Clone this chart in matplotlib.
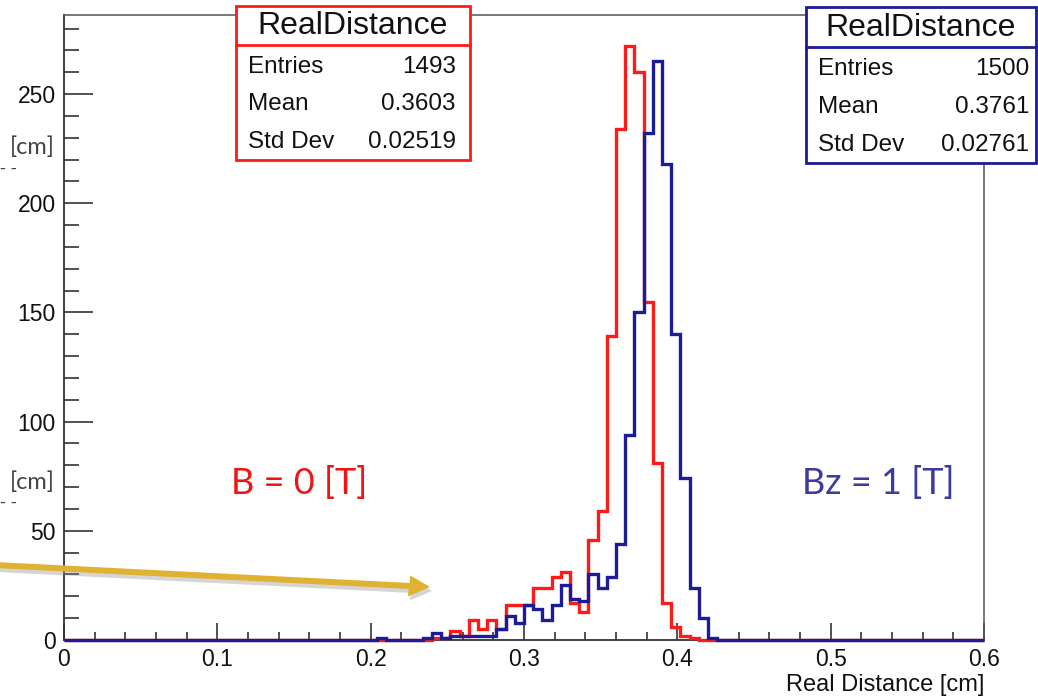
import numpy as np
import matplotlib
matplotlib.use("Agg")
import matplotlib.pyplot as plt
from matplotlib.patches import Rectangle, FancyArrow
from matplotlib.ticker import MultipleLocator

# ---------------- data ----------------
n_bins = 100
x_min, x_max = 0.0, 0.6

# B = 0 [T]  (red) : contiguous bin contents starting at bin low edge red_lo
red_lo = 0.240
red_counts = [1, 1, 4, 2, 9, 5, 9, 5, 16, 16, 16, 24, 24, 29, 31, 17, 13,
              46, 59, 139, 234, 272, 260, 155, 81, 17, 6, 2, 1]

# Bz = 1 [T] (blue)
blue_lo = 0.204
blue_counts = [1, 0, 0, 0, 0, 1, 3, 1, 2, 2, 2, 2, 2, 5, 11, 8, 16, 14, 9,
               16, 25, 19, 18, 30, 24, 29, 44, 94, 150, 232, 265, 218, 140,
               74, 24, 10, 1]

red_stats = [("Entries", "1493"), ("Mean", "0.3603"), ("Std Dev", "0.02519")]
blue_stats = [("Entries", "1500"), ("Mean", "0.3761"), ("Std Dev", "0.02761")]
hist_title = "RealDistance"
x_title = "Real Distance [cm]"
red_label = "B = 0 [T]"
blue_label = "Bz = 1 [T]"

x_ticks = [0, 0.1, 0.2, 0.3, 0.4, 0.5, 0.6]
x_ticklabels = ["0", "0.1", "0.2", "0.3", "0.4", "0.5", "0.6"]
y_ticks = [0, 50, 100, 150, 200, 250]

# ---------------- build histograms ----------------
edges = np.linspace(x_min, x_max, n_bins + 1)
bw = (x_max - x_min) / n_bins


def full_hist(lo, counts):
    h = np.zeros(n_bins)
    i0 = int(round((lo - x_min) / bw))
    h[i0:i0 + len(counts)] = counts
    return h


red_h = full_hist(red_lo, red_counts)
blue_h = full_hist(blue_lo, blue_counts)

# ---------------- figure ----------------
W, H = 1038, 698
fig = plt.figure(figsize=(W / 100, H / 100), dpi=100)
fig.patch.set_facecolor("white")
plt.rcParams["font.family"] = ["Liberation Sans", "DejaVu Sans"]

ax = fig.add_axes([63.9 / W, (H - 640) / H, (984 - 63.9) / W, (640 - 15) / H])

RED = "#ff1a1a"
BLUE = "#1c1c96"

ax.stairs(red_h, edges, color=RED, lw=2.4, zorder=3, clip_on=False)
ax.stairs(blue_h, edges, color=BLUE, lw=2.4, zorder=4, clip_on=False)

ax.set_xlim(x_min, x_max)
ax.set_ylim(0, 286.2)
ax.set_xticks(x_ticks)
ax.set_xticklabels(x_ticklabels)
ax.set_yticks(y_ticks)
ax.xaxis.set_minor_locator(MultipleLocator(0.02))
ax.yaxis.set_minor_locator(MultipleLocator(10))
ax.tick_params(axis="both", which="both", direction="in", color="#333333",
               width=1.2, labelsize=16.5, labelcolor="#111111")
ax.tick_params(axis="x", which="major", length=12.5, pad=6)
ax.tick_params(axis="x", which="minor", length=5.5)
ax.tick_params(axis="y", which="major", length=21, pad=6)
ax.tick_params(axis="y", which="minor", length=11)
ax.tick_params(top=False, right=False, which="both")
for s in ["left", "bottom"]:
    ax.spines[s].set_color("#333333")
    ax.spines[s].set_linewidth(1.3)
for s in ["top", "right"]:
    ax.spines[s].set_color("#555555")
    ax.spines[s].set_linewidth(1.1)

fig.text(984 / W, (H - 685) / H, x_title, ha="right", va="center",
         fontsize=17, color="#111111")


def fp(x, y):
    return x / W, (H - y) / H


def stat_box(x0, x1, y0, y1, ysep, rows_y, val_x, color, stats):
    bx, by = fp(x0, y1)
    rect = Rectangle((bx, by), (x1 - x0) / W, (y1 - y0) / H, transform=fig.transFigure,
                     facecolor="white", edgecolor=color, lw=2.0, zorder=10)
    fig.add_artist(rect)
    fig.add_artist(plt.Line2D([x0 / W, x1 / W], [(H - ysep) / H] * 2,
                              transform=fig.transFigure, color=color, lw=2.0, zorder=11))
    tx, ty = fp((x0 + x1) / 2, (y0 + ysep) / 2 + 1)
    fig.text(tx, ty, hist_title, ha="center", va="center", fontsize=23,
             color="#111111", zorder=12)
    for (name, val), ry in zip(stats, rows_y):
        fig.text(*fp(x0 + 12, ry), name, ha="left", va="center", fontsize=17.5,
                 color="#111111", zorder=12)
        fig.text(*fp(val_x, ry), val, ha="right", va="center", fontsize=17.5,
                 color="#111111", zorder=12)


stat_box(236, 470, 6, 160, 45, [67, 104, 142], 456, RED, red_stats)
stat_box(806, 1036, 7, 163, 47, [69, 107, 145], 1029, BLUE, blue_stats)

# field labels
fig.text(*fp(299, 483), red_label, ha="center", va="center", fontsize=26,
         color="#f01414", family=["Lato", "DejaVu Sans"], fontweight="normal")
fig.text(*fp(878, 483), blue_label, ha="center", va="center", fontsize=26,
         color="#3c3ca0", family=["Lato", "DejaVu Sans"], fontweight="normal")

# fragments at left edge
for yy in (147, 482):
    fig.text(*fp(55, yy), "[cm]", ha="right", va="center", fontsize=17,
             color="#444444", family=["Lato", "DejaVu Sans"])
    fig.text(*fp(0, yy + 22), "- -", ha="left", va="center", fontsize=13,
             color="#444444")

# golden arrow with soft shadow
sx, sy = fp(-5, 565)
ex, ey = fp(430, 587)
for off, col, a in [((2 / W, -4 / H), "#888888", 0.35), ((0, 0), "#e1b132", 1.0)]:
    fig.add_artist(FancyArrow(sx + off[0], sy + off[1], ex - sx, ey - sy,
                              width=6 / H, head_width=21 / H, head_length=21 / W,
                              length_includes_head=True, transform=fig.transFigure,
                              color=col, alpha=a, lw=0, zorder=8))

fig.savefig("out.png", dpi=100)
